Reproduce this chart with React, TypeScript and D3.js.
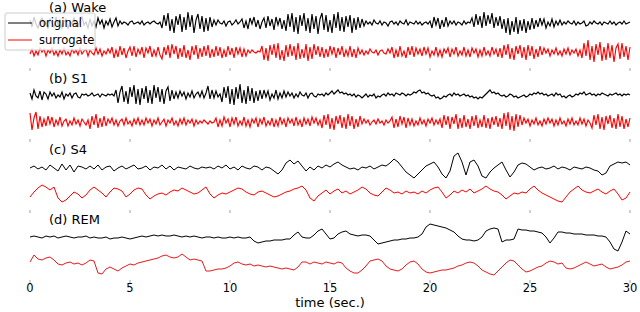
import * as d3 from 'd3';

// sleep stages and x ticks
const stages = ['(a) Wake', '(b) S1', '(c) S4', '(d) REM'];
const timeTicks = [0, 5, 10, 15, 20, 25, 30];

// signal deviations (one sample per 0.1 s for a/b, 0.2 s for c/d)
const wakeOriginal = [
  3, -4, 6, -1, -5, 2, 5, -3, 1, -6, 4, 0, -4, 6, -2, 3, -5, 1, 4, -6, 2, -1, 5, -3, -4, 3, 6, -2, 1, -5, 4, -3, 2,
  -4, 5, -1, 3, -5, 2, -2, 4, -4, 1, 5, -3, 2,
  -1, 1, 0, -2, 1, 2, -1, 0, 1, -1, 2, -2, 0, 1, -1, 1, 2, 0, -1, 1,
  -5, 8, -3, 10, -8, 4, -10, 7, -2, 9, -9, 6, -7, 11, -4, 8, -10, 3, 9, -6, 7, -9, 5, -8, 6, -4, 3,
  -2, 3, 0, -1, 2, -3, 1, 2, -2, 0, 3, -1, 1,
  4, -5, 2, -6, 5, -1, 6, -4, 3, -6, 1, 5, -5, 7, -3, 4, -7, 6, -2, 5, -6, 3,
  -8, 9, -4, 10, -9, 6, -11, 8, -3, 10, -8, 5, -10, 9, -6, 7, -11, 4, 10, -7,
  8, -9, 3, -10, 9, -5, 11, -8, 6, -9, 7, -4, 8, -10, 5, -7, 6, -5, 4, -3,
  2, -1, 1, -2, 3, 0, -1, 2, -2, 1, 0, -3, 1, 2, -1, 1, -2, 2, 0, -1, 3, -2, 1, 0, -1, 2, -1, 1, -2, 0, 1, -1, 2,
  -5, 6, -2, 5, -6, 3, -4, 6, -3, 2,
  -1, 2, -2, 1, 0, -2, 2, -1, 1, 0,
  5, -4, 9, -2, 7, -5, 11, -3, 8, -1, 10, -5, 6, -3, 7,
  -6, 4, -10, 5, -12, 2, -9, 6, -11, 3, -8, 4, -10, 2, -7, 5, -6,
  3, -4, 5, -2, 4, -5, 1, -3, 4, -4, 2, -2, 3,
  -2, 1, -1, 2, 0, -1, 2, -2, 1, -1, 0, 2, -3, -2, 1, -1, 2, 0, -1, 1, -2, 1, 0, -1, 2, -1, 1, -2, 0, 1, -1, 2, -1, 0, 1,
];
const wakeSurrogate = [
  -2, 3, -4, 1, -3, 4, 0, 3, -4, 2, -1, 4, -3, 1, -4, 2, -2, 4, -3, 0, -4, 3, -1, 2, -3, 4, -2, 1, 3, -4, 2, -1, -3, 4, -2, 3, -4, 1, -2, 3, -1,
  5, -6, 2, -5, 6, -3, 4, -6, 1, 5, -4, 6, -5, 3, -2, 5, -6, 4, -1, 6, -5, 2, -4, 5, -3,
  -7, 5, -3, 7, -6, 8, -2, 6, -7, 4, -5, 7, -6, 2, -8, 6, -3, 7, -7, 4, -5, 6, -4, 7, -6, 3, -5,
  6, -4, 5, -6, 2, -5, 6, -3, 4, -6, 5, -2, 4, -5, 3, -4, 2,
  -1, 2, 0, -1, 1, 0,
  6, -8, 4, -9, 7, -3, 8, -6, 9, -8, 2, -9, 7, -5, 8, -4, 6, -8, 9, -7, 3, -6, 8, -9, 5, -7, 8, -3, 6, -5,
  5, -6, 3, -5, 6, -2, 5, -6, 4, -3, 6, -5, 2, -4, 6, -5, 3, -6, 4, -2,
  2, -3, 1, -2, 3, 0, -1, 2, -3, 1, 2, -1, -2, 3, -1,
  5, -6, 2, -5, 6, -4, 1, -6, 5, -3, 6, -5, 4, -2, 3,
  -4, 5, -2, 4, -5, 1, -3, 5, -4, 2, -5, 3, -1, 4, -5, 3, -2, 5, -4, 1,
  -3, 5, -4, 2, -5, 4, -1, 3, -5, 2, -4, 5, -3, 1, -4, 5, -2, 3, -5, 4,
  -6, 7, -3, 8, -7, 4, -8, 6, -2, 7, -6, 5, -8, 7, -4, 6, -7, 3, -5, 6,
  -3, 4, -1, 3, -4, 2, -2, 4, -3, 1, -4, 3, -2, 4, -3, 2, -1, 3, -4, 2,
  -6, 9, -4, 12, -8, 6, -10, 8, -3, 10, -9, 5, -8, 9, -6, 7, -10, 4, 8, -7, 9, -5, 6, -8, 5,
];
const s1Original = [
  2, -4, 5, -1, -3, 4, -5, 3, 1, -4, 3,
  -1, 2, -3, 0, -2, 3, -4, 1, -1, 2, -3, 1, 2, -2, -3, 1, 0,
  1, -1, 0, 2, -1, 0, 1, -2, 1, 0, -1, 1, 0, 1, -1,
  5, -8, 3, 9, -7, 4, -9, 8, -2, 10, -9, 6, -10, 7, -4, 9, -8, 5, -9, 10, -3, 8, -7, 6, -9, 4, 8, -6, 5, -4, 3,
  -3, 4, -1, 3, -4, 2, -2, 4, -3, 1, 3, -2,
  4, -3, 2, 9, -4, 5, -3, 4, -2, 1,
  -7, 8, -3, 9, -9, 6, -10, 8, -4, 11, -8, 5, -9, 9, -6, 7, -8, 4, -6, 5,
  -4, 5, -2, 4, -5, 1, -3, 5, -4, 2, -3, 4, -2, 3, -1,
  2, -3, 1, -2, 3, 0, -1, 2, -3, 1, 2, -1, -2, 1, 0,
  1, -1, 2, 0, 2, 4, 1, 3, 5, 2, 3, 1, 2, 0, 1,
  -1, 1, -2, 0, -1, -3, -1, 1, -2, 0, -1, 1, -3, -1, -2,
  0, 1, -1, 2, 0, 1, -1, 2, 1, 0, 2, 1, -1, 1, 0,
  1, 3, 2, 4, 5, 2, 3, 1, 2, 0, -1, 0, -3, -2, -4,
  -3, -1, -2, 0, 1, -1, 2, 0, 1, -1, 0, 1, -1, 0, -2,
  -1, -3, -2, -4, -2, -3, -1, 1, 3, 5, 2, 3, 1, 2, 0,
  -1, 0, -2, -1, 1, 0, -2, -1, -3, -2, -1, 0, -2, -1, 1,
  0, 2, 1, 3, 1, 2, 0, 1, -1, 0, 1, -1, 2, 0, 1,
  -2, -1, -3, -1, 0, -2, -1, 1, 0, 2, 1, 3, 0, 1, 2,
  0, 1, -1, 1, 0, 2, 1, 0, -1, 1, 0, 1, 2, 0, 1, -1, 1, 0, 1, 0,
];
const s1Surrogate = [
  9, -8, 4, 10, -7, 6,
  -5, 3, -4, 6, -2, 5, -5, 2, -3, 5, -4, 1,
  3, -4, 1, -3, 4, -2, 2, -4, 3, 0, -3, 2,
  -7, 6, -3, 8, -6, 4, -5, 6,
  -4, 3, -1, 4, -3, 2, -4, 1, 3, -3, 4, -2, 1, -4, 3, -2, 4, -3,
  2, -3, 4, -1, 3, -4, 2, -2, 4, -3, 0, 3, -4, 2, -1, 4, -3, 1, -4, 3, -2, 4, -3, 2, -1, 3, -4, 2, -2,
  1, -1, 2, 0, -2, 1, -1, 0,
  4, -5, 2, -4, 5, -1, 3, -5, 4, -2, 5, -4, 1, -3, 5, -4, 2, -5, 3, -1, 4, -5, 3, -2, 5, -4,
  1, -3, 4, -5, 2, -4, 5, -2, 3, -5, 4, -1, 3, -4, 5, -3, 2, -5, 4, -2, 3, -4, 5, -1, 4, -3, 2,
  -6, 7, -3, 8, -7, 4, -8, 6, -2, 7, -6, 5, -7, 8, -4, 6, -7, 3, -5, 6,
  -2, 3, -1, 2, -3, 0, 2, -2, 3, -1, 1, -3, 2, -1, 1,
  5, -6, 3, -5, 6, -2, 5, -6, 4, -3,
  3, -4, 1, -3, 4, -2, 2, -4, 3, -1, 4, -3, 2, -2, 3,
  -6, 7, -3, 6, -7, 5, -2, 8, -7, 4, -6, 7, -5, 3, -7, 6, -4, 7, -6, 2, -5, 7, -6, 4, -7, 5, -3, 6, -5, 4,
  -7, 9, -4, 10, -8, 6, -9, 8, -5, 7,
  -3, 4, -1, 3, -4, 2, -2, 4, -3, 1, -4, 3, -2, 4, -1, 3, -4, 2,
  -3, 4, -2, 1, -4, 3, -2, 4, -3, 1, -3, 4, -2, 3, -4, 2, -1,
  -6, 7, -3, 8, -7, 5, -8, 6, -2, 7, -6, 4, -7, 8, -5, 6, -7, 3, -5, 4,
];
const s4Original = [
  0, 2, -1, 1, -2, 3, 0, -3, 4, -2, 3, -4, 2, 1, -1,
  2, -1, 3, -2, 1, 2, -3, 0, 2, -1, 1, 3, -1, 0, 2,
  -2, 1, 0, 3, -1, 2, -2, 1, 0, -1, 2, 0, -1, 1, 0,
  1, -1, 2, 0, 3, -1, 1, -2, 2, 0, -1, 2, 1, -2, 1,
  0, -3, -6, -2, 5, 8, 4, 7, 2, -3,
  1, -2, 2, 0, 3, 1, 4, 6, 3, 1,
  -1, 0, -2, 1, 0, 2, -1, 1, 3, 2,
  5, 9, 6, 1, -4, -7, -10, -6, -2, 2,
  4, 6, 1, -6, -10, -3, 12, 15, 6, -7,
  6, 8, 2, -8, -10, -4, 0, 3, 6, -2,
  -9, -4, 3, 5, 4, 1, -2, 0, 1, -1,
  0, 2, -1, 1, 0, -2, 1, 0, -1, 1,
  0, -2, -3, -7, -5, 2, 4, 6, 5, 6, 3,
];
const s4Surrogate = [
  -5, 0, 4, 7, 5, 2, 5, -6, -10, -8, -4, 0, -2, -6, -3, 2, 5, 2, -1, -5,
  0, 4, 3, 1, -5, -2, 2, 4, 3, -3, -7, -4, -2, -1, -3, 0, 2, 1, 4, 2,
  0, -2, -1, 2, 5, -2, -6, -3, -1, -2, 0, 2, 4, 3, 0, -2, -3, 0, 1, -1,
  -3, -5, -4, -2, 0, 1, 3, 4, 6, 2, -6, -9, -4,
  -1, 2, -2, 1, 3, -1, 1, -2, 0, 2, 5, 3, -1, -3, -4, 0, 4, 2, -1, 0,
  -2, 1, -1, 0, -2, 1, -1, 2, 4, 5, 0, -6, -3, 1, -1, 2, 0, 3, -1, 1,
  3, 6, 3, 1, 0, -3, -7, -4, -1, -2, 0, -1, 3, 6, 2, -1, -3, -5, -7, -9,
  -10, -5, 0, 3, 6, 2, 0, -1, 1, 3, 0, -2, 1, 3, -2, -8, -6, 0,
];
const remOriginal = [
  0, 1, 0, -1, 1, 0, 1, -1, 0, 1, 0, -1, 0, 0, 1, -1, 0, -1, -1, 0,
  -2, -1, -1, 0, -1, -2, -1, 0, 1, 0, 1, 2, 1, 2, 1, 1, 2, 1, 0, 1,
  0, 1, 0, -1, 0, 0, -1, 0, -1, -1, 0, -1, 0, -1, -1, 0,
  -4, -6, -5, -4, -4, -3, -3, -3, -2, -2, 2, 5, 0, -1, -1, 2, 6, 8, 3, -2,
  -1, 3, 5, 6, 3, 2, 1, 2, 2, 1, -3, -7, -6, -5, -4, -3, -3, -2, -2, -1,
  -1, 0, 3, 10, 13, 12, 11, 10, 9, 7, 5, 1, -2, -3, -3, -4, -3, 0, 6, 8,
  9, 8, -5, -3, -3, -2, 8, 7, 7, 6, 6, 5, 4, 0, -6, -1, 5, 5, 4, 4,
  3, 3, 3, 2, 2, 2, 1, 1, 0, -5, -12, -14, -5, 6, 3,
];
const remSurrogate = [
  1, 8, 4, 3, 5, 6, 3, -1, -2, 0, 1, -1, 0, -2, 0, 3, 2, -10, -11, -6,
  -4, -6, -8, -5, -3, -1, -2, 0, 1, 2, 3, 4, 5, 7, 8, 6, 5, 6, 9, 6,
  3, 4, 3, 2, -8, -8, -7, -6, -6, -5, -3, 0, 1, -1, -2, -1, -3, -2, -3, -4,
  -3, -4, -5, -6, -5, -6, -7, -4, 1, 1, -1, 1, 0, -1, 1, 0, -1, 1, 0, -5,
  -8, -10, -10, -7, -3, 2, 3, 4, 2, -3, -6, -7, -8, -6, -2, 1, 2, -1, -6, -9,
  -10, -9, -8, -7, -7, -6, -5, -3, -2, 0, 1, 0, -3, -7, -9, -11, -12, -8, -4, 0,
  3, 2, -2, -6, -9, -8, -6, -4, -3, 0, 2, 1, -1, 0, -5, -6, -5, -3, -1, 1,
  -1, -3, -2, -1, -4, -6, -5, -4, -2, 1, 2,
];

const originals = [wakeOriginal, s1Original, s4Original, remOriginal];
const surrogates = [wakeSurrogate, s1Surrogate, s4Surrogate, remSurrogate];

const W = 640;
const H = 312;
const panelTops = [0, 71, 142, 212];
const origOffset = [23, 24, 26, 25];
const surOffset = [52, 51, 50, 51];
const font = 'DejaVu Sans, sans-serif';

const x = d3.scaleLinear().domain([0, 30]).range([30, 630]);

function trace(values: number[], center: number) {
  const t = d3.scaleLinear().domain([0, values.length - 1]).range([0, 30]);
  const y = d3.scaleLinear().domain([-10, 10]).range([center + 10, center - 10]);
  return d3
    .line<number>()
    .x((_, i) => x(t(i)))
    .y((v) => y(v))(values) as string;
}

export default function App() {
  return (
    <svg
      width={W}
      height={H}
      style={{ position: 'absolute', left: 0, top: 0, background: '#fff' }}
      fontFamily={font}
    >
      {stages.map((name, p) => {
        const top = panelTops[p];
        const last = p === stages.length - 1;
        const dense = p < 2;
        return (
          <g key={name}>
            <text x={49} y={top + 12} fontSize={13} fill='#000'>
              {name}
            </text>
            <path
              d={trace(originals[p], top + origOffset[p])}
              fill='none'
              stroke='#000'
              strokeWidth={dense ? 1.15 : 1}
            />
            <path
              d={trace(surrogates[p], top + surOffset[p])}
              fill='none'
              stroke={last ? '#e41a1c' : '#ff0000'}
              strokeWidth={dense ? 1.15 : 1}
            />
            {timeTicks.map((tk) => (
              <g key={tk} transform={`translate(${x(tk)},${top + 68})`}>
                <line y2={3} stroke='#888' strokeWidth={0.8} />
                {last && (
                  <text y={12} textAnchor='middle' fontSize={11.5} fill='#000'>
                    {tk}
                  </text>
                )}
              </g>
            ))}
          </g>
        );
      })}
      <text x={x(15)} y={307} textAnchor='middle' fontSize={13} fill='#000'>
        time (sec.)
      </text>
      <g>
        <rect
          x={5}
          y={13}
          width={90}
          height={37}
          rx={2}
          fill='#fff'
          fillOpacity={0.8}
          stroke='#ccc'
        />
        <line x1={8} x2={32} y1={23} y2={23} stroke='#000' />
        <text x={39} y={27} fontSize={11.5} fill='#000'>
          original
        </text>
        <line x1={8} x2={32} y1={40} y2={40} stroke='#ff0000' />
        <text x={39} y={44} fontSize={11.5} fill='#000'>
          surrogate
        </text>
      </g>
    </svg>
  );
}
